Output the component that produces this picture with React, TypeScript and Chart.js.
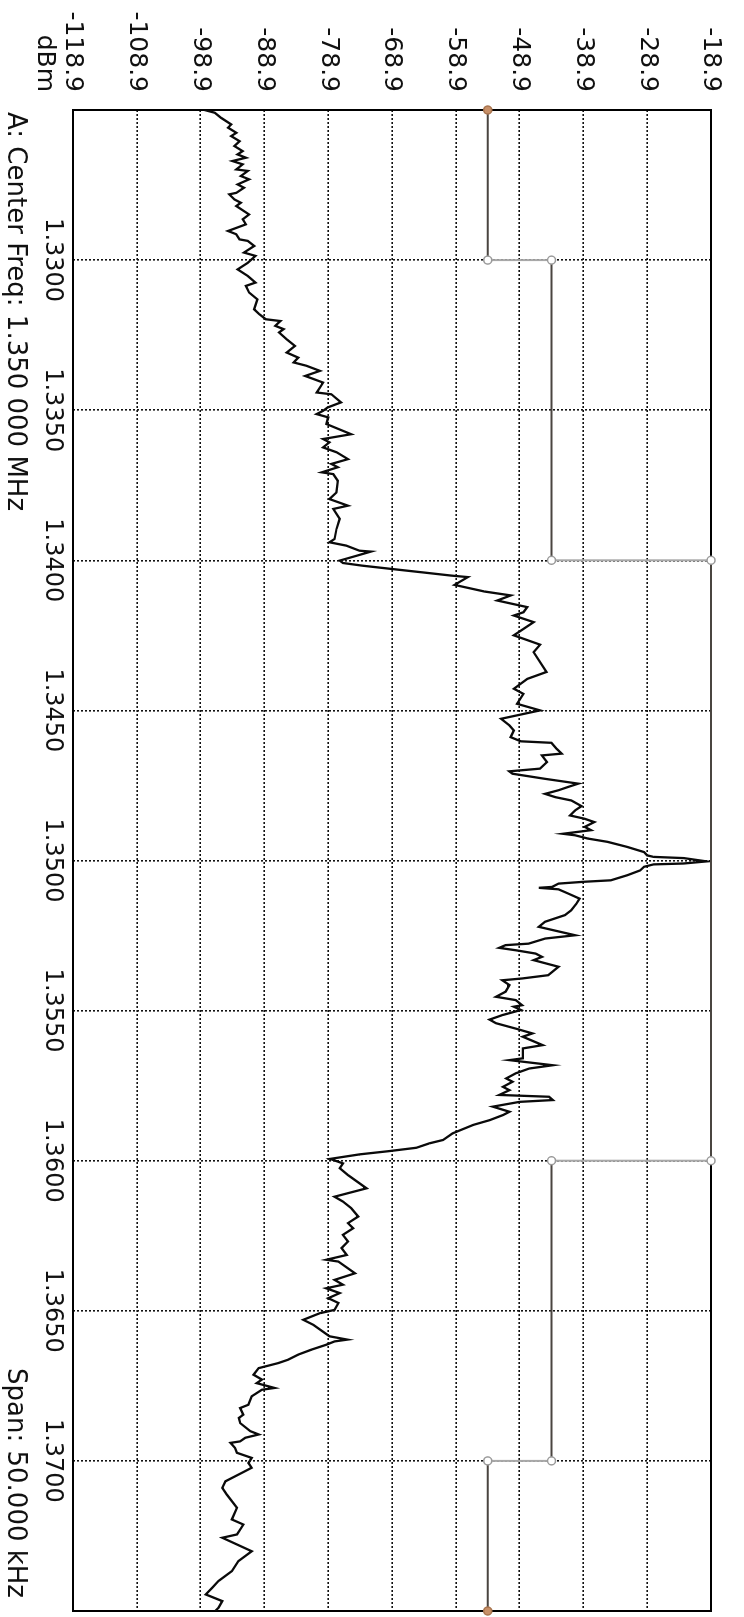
import React, { useEffect, useRef } from 'react';
import { Chart, registerables } from 'chart.js';

Chart.register(...registerables);

// Frequency offset from 1.3250 MHz, in kHz
const traceOffsetKHz = [
  0.0, 0.09, 0.26, 0.48, 0.59, 0.76, 0.87, 1.04, 1.2, 1.37, 1.48, 1.59, 1.7, 1.81, 1.98, 2.03,
  2.2, 2.31, 2.48, 2.59, 2.76, 2.81, 2.98, 3.09, 3.2, 3.48, 3.64, 3.81, 4.03, 4.14, 4.31, 4.36,
  4.53, 4.75, 4.86, 5.09, 5.31, 5.53, 5.75, 5.86, 6.08, 6.31, 6.64, 6.8, 6.97, 7.03, 7.19, 7.3,
  7.41, 7.64, 7.86, 8.08, 8.25, 8.41, 8.52, 8.69, 8.86, 9.08, 9.41, 9.47, 9.74, 9.91, 10.02,
  10.13, 10.24, 10.46, 10.8, 10.96, 11.07, 11.24, 11.4, 11.63, 11.79, 11.9, 12.07, 12.13, 12.35,
  12.74, 12.96, 13.18, 13.29, 13.62, 13.96, 14.29, 14.4, 14.51, 14.68, 14.71, 14.84, 15.01, 15.09,
  15.18, 15.29, 15.4, 15.51, 15.56, 15.82, 16.04, 16.17, 16.34, 16.56, 16.73, 16.84, 17.06, 17.5,
  17.81, 18.06, 18.72, 18.95, 19.28, 19.45, 19.78, 20.0, 20.28, 20.5, 20.67, 20.89, 21.03, 21.08,
  21.28, 21.44, 21.5, 21.72, 21.94, 22.03, 22.11, 22.28, 22.44, 22.55, 22.66, 22.78, 22.89, 23.0,
  23.19, 23.33, 23.5, 23.61, 23.72, 23.88, 23.99, 24.11, 24.16, 24.27, 24.38, 24.55, 24.72, 24.83,
  24.88, 24.92, 25.03, 25.1, 25.13, 25.21, 25.33, 25.49, 25.66, 25.71, 25.77, 25.88, 25.91, 25.96,
  26.1, 26.27, 26.44, 26.66, 26.82, 27.04, 27.21, 27.49, 27.6, 27.77, 27.82, 27.91, 27.99, 28.1,
  28.21, 28.32, 28.54, 28.82, 28.93, 28.99, 29.15, 29.37, 29.54, 29.65, 29.82, 29.87, 29.98, 30.15,
  30.3, 30.42, 30.6, 30.76, 30.87, 31.15, 31.26, 31.59, 31.65, 31.82, 31.93, 32.09, 32.26, 32.37,
  32.54, 32.65, 32.81, 32.87, 32.98, 33.04, 33.2, 33.37, 33.48, 33.65, 33.81, 34.09, 34.31, 34.42,
  34.57, 34.68, 34.79, 34.94, 35.09, 35.25, 35.48, 35.92, 36.2, 36.36, 36.58, 36.86, 37.08, 37.25,
  37.47, 37.69, 37.91, 38.14, 38.3, 38.36, 38.75, 38.97, 39.13, 39.25, 39.41, 39.58, 39.74, 39.97,
  40.08, 40.3, 40.47, 40.85, 40.96, 41.02, 41.13, 41.3, 41.46, 41.63, 41.74, 41.91, 42.13, 42.29,
  42.41, 42.57, 42.63, 42.85, 43.13, 43.24, 43.46, 43.57, 43.74, 44.01, 44.12, 44.23, 44.35, 44.4,
  44.57, 44.73, 44.9, 45.07, 45.23, 45.34, 45.68, 45.9, 46.12, 46.56, 46.95, 47.12, 47.45, 47.56,
  48.01, 48.34, 48.67, 49.0, 49.23, 49.45, 49.67, 49.89, 50.0,
];

const traceDBm = [
  -98.3, -96.7, -95.7, -94.1, -94.6, -93.3, -94.1, -92.8, -93.6, -92.3, -93.1, -91.8, -93.9, -92.3, -93.3, -91.5,
  -92.6, -91.3, -93.1, -92.1, -93.3, -94.4, -93.6, -92.6, -93.3, -91.3, -92.3, -91.8, -94.6, -93.3, -92.8, -91.5,
  -90.5, -92.1, -90.3, -91.5, -93.1, -91.5, -90.3, -91.8, -91.3, -90.0, -90.5, -89.7, -88.7, -86.4, -87.2, -85.9,
  -86.6, -85.4, -84.1, -85.4, -83.6, -84.3, -82.3, -80.2, -82.5, -79.7, -80.7, -78.4, -76.9, -79.0, -79.7,
  -80.7, -78.9, -79.2, -75.3, -79.7, -78.7, -79.7, -77.6, -75.8, -78.4, -77.4, -79.9, -78.1, -77.4,
  -77.6, -78.7, -75.8, -78.1, -77.1, -77.6, -77.9, -78.7, -76.1, -74.0, -72.2, -74.3, -77.1, -76.6,
  -73.5, -68.9, -64.2, -59.6, -57.0, -59.1, -54.4, -50.3, -52.4, -47.7, -48.3, -49.8, -46.7, -49.8,
  -45.7, -46.7, -44.7, -47.7, -49.8, -48.3, -49.3, -45.7, -51.8, -50.5, -49.8, -50.3, -48.7, -43.9,
  -43.1, -42.3, -45.4, -44.6, -45.7, -50.5, -50.0, -44.9, -39.7, -41.3, -42.8, -44.9, -43.3, -40.8,
  -39.2, -40.2, -41.0, -38.7, -37.2, -38.7, -37.7, -42.1, -40.2, -38.2, -35.1, -32.0, -29.4, -28.9,
  -27.9, -23.2, -19.6, -23.2, -27.9, -29.4, -30.0, -32.0, -34.6, -38.9, -42.8, -43.8, -45.9, -42.8,
  -41.3, -39.5, -40.0, -40.8, -41.8, -44.9, -45.9, -40.2, -44.9, -47.5, -51.1, -52.1, -49.5, -46.4,
  -45.4, -46.7, -42.8, -44.4, -48.5, -51.6, -50.5, -51.1, -52.6, -49.5, -48.5, -49.8, -48.7, -51.6,
  -53.6, -52.6, -49.5, -46.9, -48.4, -45.3, -48.4, -48.4, -50.5, -43.7, -47.4, -49.5, -51.0, -50.0,
  -51.5, -50.5, -52.1, -44.3, -43.7, -48.9, -53.1, -50.5, -51.5, -53.6, -56.2, -59.4, -60.9, -63.0,
  -65.1, -69.3, -74.0, -78.6, -76.6, -77.1, -75.8, -72.9, -77.9, -76.6, -75.3, -74.2, -75.8, -75.0,
  -76.6, -75.8, -76.8, -76.0, -79.2, -77.3, -74.7, -77.9, -76.6, -79.2, -77.1, -78.9, -77.3, -77.9,
  -80.2, -82.8, -81.2, -78.7, -75.9, -77.9, -79.2, -81.6, -83.6, -85.2, -86.7, -89.8, -90.6, -89.3,
  -90.1, -87.3, -89.3, -90.9, -91.4, -92.7, -92.2, -92.9, -92.7, -91.1, -89.8, -91.9, -92.7, -94.2,
  -93.5, -93.2, -90.9, -91.4, -90.9, -91.9, -95.0, -95.5, -94.8, -93.2, -94.0, -92.2, -93.2, -95.5,
  -90.9, -93.0, -94.0, -96.1, -97.1, -98.1, -95.5, -96.1, -96.6,
];

const limitOffsetKHz = [0, 5, 5, 15, 15, 35, 35, 45, 45, 50];
const limitDBm = [-53.9, -53.9, -43.9, -43.9, -18.9, -18.9, -43.9, -43.9, -53.9, -53.9];

const dbmTicks = [-118.9, -108.9, -98.9, -88.9, -78.9, -68.9, -58.9, -48.9, -38.9, -28.9, -18.9];
const freqTickOffsets = [0, 5, 10, 15, 20, 25, 30, 35, 40, 45, 50];
const freqTickLabels = ['', '1.3300', '1.3350', '1.3400', '1.3450', '1.3500', '1.3550', '1.3600', '1.3650', '1.3700', ''];

const unitText = 'dBm';
const centerText = 'A: Center Freq: 1.350 000 MHz';
const spanText = 'Span: 50.000 kHz';

const W = 1617;
const H = 744;
const FONT = '"DejaVu Sans", sans-serif';

export default function App() {
  const ref = useRef<HTMLCanvasElement | null>(null);

  useEffect(() => {
    if (!ref.current) return;
    const framePlugin = {
      id: 'frameAndText',
      beforeDatasetsDraw(chart: any) {
        const { ctx, chartArea: a } = chart;
        ctx.save();
        ctx.strokeStyle = '#000';
        ctx.lineWidth = 2;
        ctx.strokeRect(a.left, a.top, a.right - a.left, a.bottom - a.top);
        ctx.restore();
      },
      afterDraw(chart: any) {
        const { ctx, chartArea: a } = chart;
        ctx.save();
        ctx.fillStyle = '#111';
        ctx.textBaseline = 'middle';
        ctx.font = `25px ${FONT}`;
        ctx.textAlign = 'right';
        ctx.fillText(unitText, a.left - 18, a.bottom + 28);
        ctx.font = `26px ${FONT}`;
        ctx.textAlign = 'left';
        ctx.fillText(centerText, a.left + 2, chart.height - 15);
        ctx.textAlign = 'right';
        ctx.fillText(spanText, a.right - 13, chart.height - 15);
        ctx.restore();
      },
    };

    const chart = new Chart(ref.current, {
      type: 'line',
      data: {
        datasets: [
          {
            label: 'trace',
            data: traceOffsetKHz.map((x, i) => ({ x, y: traceDBm[i] })),
            borderColor: '#0a0a0a',
            borderWidth: 2.3,
            pointRadius: 0,
            tension: 0,
            order: 1,
          },
          {
            label: 'limit',
            data: limitOffsetKHz.map((x, i) => ({ x, y: limitDBm[i] })),
            borderColor: '#555',
            borderWidth: 2,
            segment: {
              borderColor: (c: any) => (c.p0.parsed.x === c.p1.parsed.x ? '#a8a8a8' : '#4a4540'),
            },
            pointRadius: 4,
            pointBorderWidth: 1.5,
            pointBorderColor: limitOffsetKHz.map((_, i) => (i === 0 || i === limitOffsetKHz.length - 1 ? '#a8744e' : '#9a9a9a')),
            pointBackgroundColor: limitOffsetKHz.map((_, i) => (i === 0 || i === limitOffsetKHz.length - 1 ? '#c89068' : '#ffffff')),
            tension: 0,
            clip: 6,
            order: 0,
          },
        ],
      },
      options: {
        animation: false,
        responsive: false,
        events: [],
        layout: { padding: { top: 24, right: 4, left: 0, bottom: 0 } },
        plugins: { legend: { display: false }, tooltip: { enabled: false } },
        scales: {
          x: {
            type: 'linear',
            position: 'bottom',
            min: 0,
            max: 50,
            afterBuildTicks: (s: any) => {
              s.ticks = freqTickOffsets.map((v) => ({ value: v }));
            },
            afterFit: (s: any) => {
              s.height = 73;
            },
            ticks: {
              autoSkip: false,
              maxRotation: 0,
              padding: 6,
              color: '#111',
              font: { family: FONT, size: 24 },
              callback: (v: any) => {
                const i = freqTickOffsets.indexOf(Number(v));
                return i >= 0 ? freqTickLabels[i] : '';
              },
            },
            grid: { color: '#111', lineWidth: 1.6, drawTicks: false },
            border: { display: false, dash: [2, 2] },
          },
          y: {
            type: 'linear',
            position: 'left',
            min: -118.9,
            max: -18.9,
            afterBuildTicks: (s: any) => {
              s.ticks = dbmTicks.map((v) => ({ value: v }));
            },
            afterFit: (s: any) => {
              s.width = 110;
            },
            ticks: {
              padding: 18,
              color: '#111',
              font: { family: FONT, size: 25 },
              callback: (v: any) => Number(v).toFixed(1),
            },
            grid: { color: '#111', lineWidth: 1.6, drawTicks: false },
            border: { display: false, dash: [2, 2] },
          },
        },
      },
      plugins: [framePlugin],
    } as any);
    return () => chart.destroy();
  }, []);

  return (
    <div style={{ position: 'absolute', left: 0, top: 0, width: 744, height: 1617, overflow: 'hidden', background: '#fff' }}>
      <div
        style={{
          position: 'absolute',
          left: 0,
          top: 0,
          width: W,
          height: H,
          transformOrigin: '0 0',
          transform: 'translateX(744px) rotate(90deg)',
        }}
      >
        <canvas ref={ref} width={W} height={H} style={{ display: 'block', width: W, height: H }} />
      </div>
    </div>
  );
}
